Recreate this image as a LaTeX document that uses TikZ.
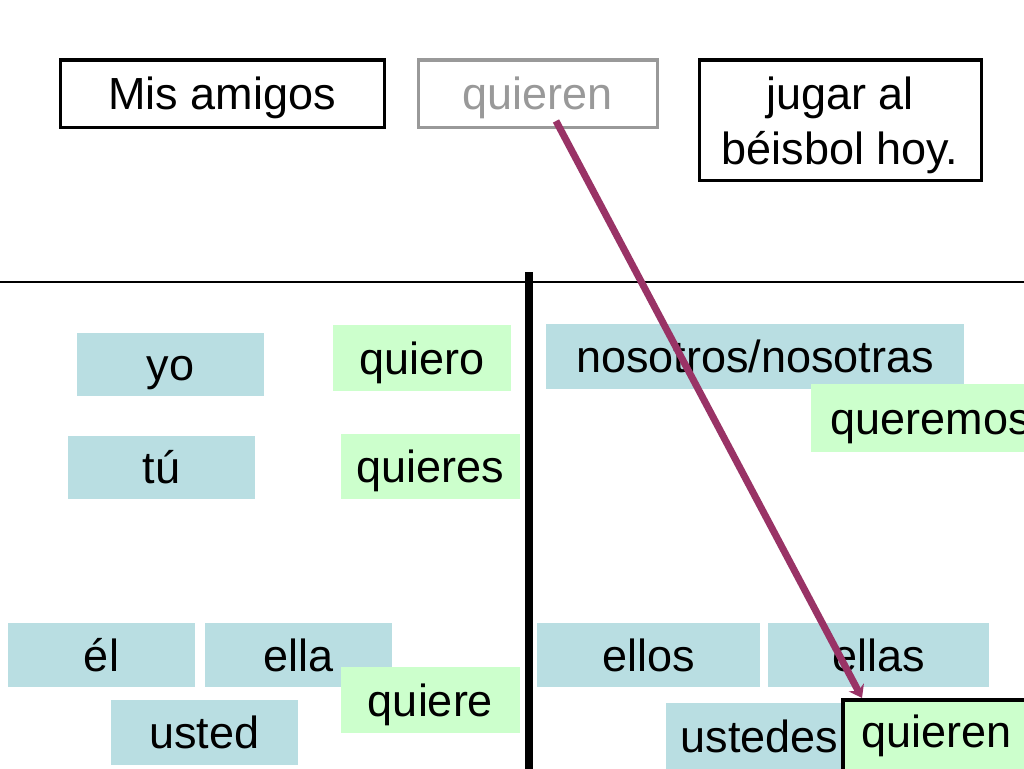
\documentclass[tikz,border=0pt]{standalone}
\usepackage{fontspec}
\setmainfont{Liberation Sans}
\usetikzlibrary{arrows.meta,calc}
\definecolor{pblue}{HTML}{B9DEE2}
\definecolor{pgreen}{HTML}{CCFFCC}
\definecolor{pgrey}{HTML}{999999}
\definecolor{ppurple}{HTML}{993366}
\begin{document}
\begin{tikzpicture}[x=1pt,y=-1pt,
  word/.style={inner sep=0pt, text height=32pt, text depth=0pt,
    font=\fontsize{45}{55}\selectfont, text=black},
  topbox/.style={word, draw=black, line width=3pt, fill=white},
  greybox/.style={word, draw=pgrey, line width=3pt, fill=white, text=pgrey},
  bluebox/.style={word, fill=pblue},
  greenbox/.style={word, fill=pgreen},
  answerbox/.style={word, fill=pgreen, draw=black, line width=4pt},
  divider/.style={black, line width=8pt},
  rule/.style={black, line width=1.2pt},
  linkline/.style={ppurple, line width=7pt, -{Stealth[length=12pt,width=17pt]}}]
\useasboundingbox (0,0) rectangle (1024,768);
\clip (0,0) rectangle (1024,768);
\fill[white] (0,0) rectangle (1024,768);
% top sentence
\node[topbox, minimum width=324, minimum height=67] (m1) at (222,93.5) {Mis amigos};
\node[greybox, minimum width=239, minimum height=67] (q1) at (537.5,93.5) {quieren};
\node[draw=black, line width=3pt, fill=white, inner sep=0pt, minimum width=282, minimum height=120,
  align=center, font=\fontsize{45}{55}\selectfont] (jb) at (840,120) {\rule{0pt}{44pt}jugar al\\béisbol hoy.};
% separators
\coordinate (hl) at (0,282);
\coordinate (hr) at (1024,282);
\draw[rule] (hl) -- (hr);
\coordinate (vt) at (529,272);
\coordinate (vb) at (529,770);
\draw[divider] (vt) -- (vb);
% left column
\node[bluebox, minimum width=187, minimum height=63] (yo) at (170.5,364.5) {yo};
\node[greenbox, minimum width=178, minimum height=66] (quiero) at (422,358) {quiero};
\node[bluebox, minimum width=187, minimum height=63] (tu) at (161.5,467.5) {tú};
\node[greenbox, minimum width=179, minimum height=65] (quieres) at (430.5,466.5) {quieres};
\node[bluebox, minimum width=187, minimum height=64] (el) at (101.5,655) {él};
\node[bluebox, minimum width=187, minimum height=64] (ella) at (298.5,655) {ella};
\node[greenbox, minimum width=179, minimum height=66] (quiere) at (430.5,700) {quiere};
\node[bluebox, minimum width=187, minimum height=65] (usted) at (204.5,732.5) {usted};
% right column
\node[bluebox, minimum width=418, minimum height=65] (nos) at (755,356.5) {nosotros/nosotras};
\node[greenbox, minimum width=239, minimum height=68] (queremos) at (930.5,418) {queremos};
\node[bluebox, minimum width=223, minimum height=64] (ellos) at (648.5,655) {ellos};
\node[bluebox, minimum width=221, minimum height=64] (ellas) at (878.5,655) {ellas};
\node[bluebox, minimum width=187, minimum height=67] (ustedes) at (759.5,736.5) {ustedes};
\node[answerbox, minimum width=187, minimum height=80, text depth=18pt] (q2) at (936.5,740) {quieren};
% connector
\coordinate (ls) at (556,121);
\draw[linkline] (ls) -- ($(q2.north west)+(21,0)$);
\end{tikzpicture}
\end{document}
